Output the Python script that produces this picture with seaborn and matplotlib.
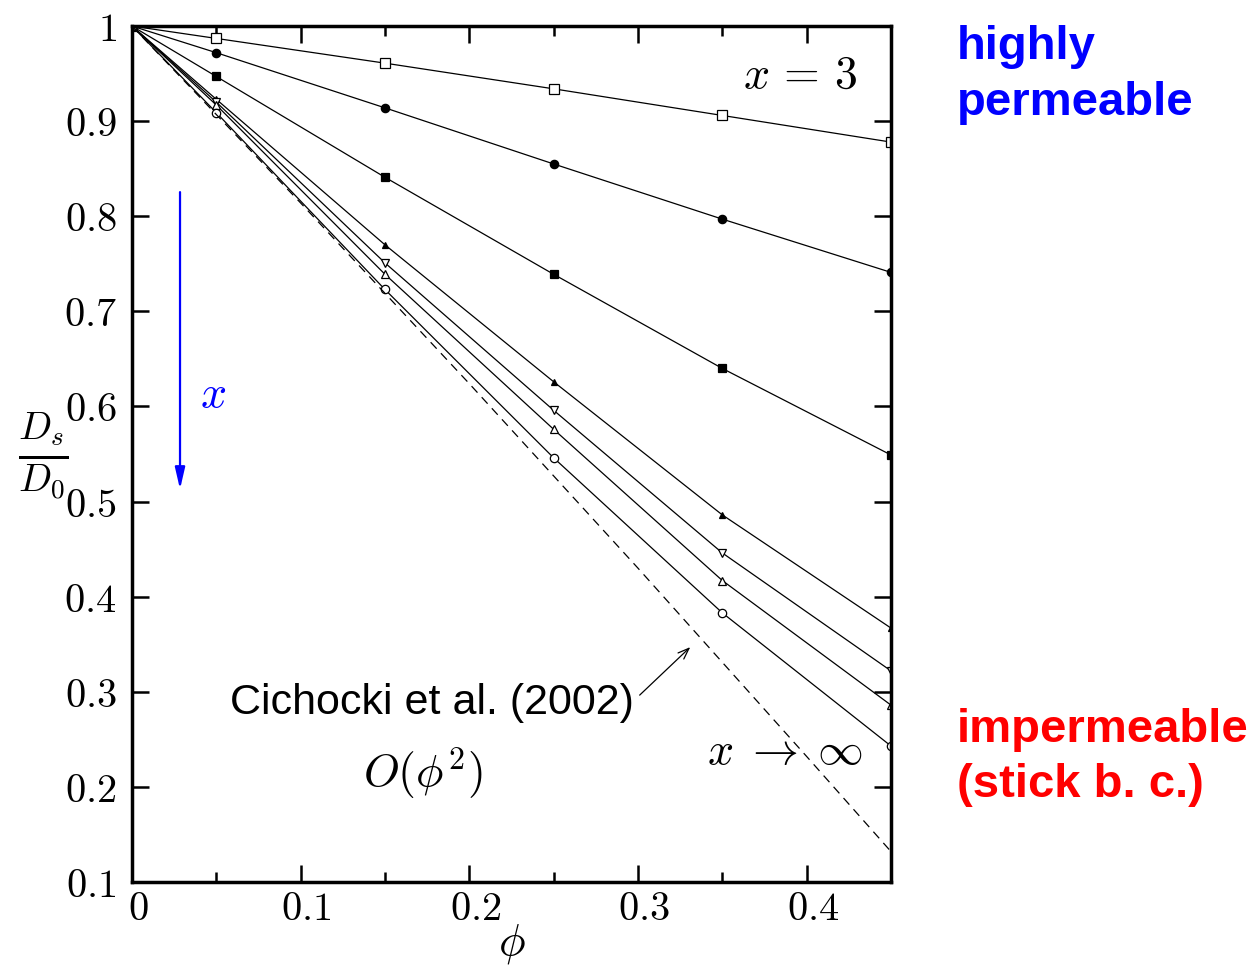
import numpy as np
import pandas as pd
import matplotlib
matplotlib.use("Agg")
import matplotlib.pyplot as plt
import matplotlib.transforms as mtransforms
import seaborn as sns

# ---------------- data ----------------
phi = [0.0, 0.05, 0.15, 0.25, 0.35, 0.45]
s_open_square = [1.0, 0.987, 0.961, 0.934, 0.906, 0.878]
s_filled_circle = [1.0, 0.972, 0.914, 0.855, 0.797, 0.741]
s_filled_square = [1.0, 0.947, 0.841, 0.739, 0.640, 0.549]
s_filled_tri_up = [1.0, 0.923, 0.770, 0.626, 0.486, 0.367]
s_open_tri_down = [1.0, 0.920, 0.751, 0.596, 0.446, 0.322]
s_open_tri_up = [1.0, 0.917, 0.739, 0.576, 0.417, 0.286]
s_open_circle = [1.0, 0.909, 0.723, 0.546, 0.383, 0.243]

phi_dash = [0.0, 0.05, 0.10, 0.15, 0.20, 0.25, 0.30, 0.35, 0.40, 0.45]
dash_vals = [1.0, 0.907, 0.814, 0.719, 0.624, 0.527, 0.430, 0.331, 0.232, 0.132]

xticks = [0.0, 0.1, 0.2, 0.3, 0.4]
xtick_labels = ["0", "0.1", "0.2", "0.3", "0.4"]
yticks = [0.1, 0.2, 0.3, 0.4, 0.5, 0.6, 0.7, 0.8, 0.9, 1.0]
ytick_labels = ["0.1", "0.2", "0.3", "0.4", "0.5", "0.6", "0.7", "0.8", "0.9", "1"]

# ---------------- style ----------------
sns.set_style("ticks")
plt.rcParams["font.family"] = ["Liberation Sans", "DejaVu Sans"]
plt.rcParams["mathtext.fontset"] = "cm"
plt.rcParams["text.color"] = "black"
plt.rcParams["xtick.color"] = "black"
plt.rcParams["ytick.color"] = "black"
plt.rcParams["axes.edgecolor"] = "black"

fig = plt.figure(figsize=(12.59, 9.65), dpi=100)
ax = fig.add_axes([0.1048, 0.086, 0.6029, 0.887])

series = [
    (s_open_square, "s", "white", 6.5),
    (s_filled_circle, "o", "black", 6),
    (s_filled_square, "s", "black", 6),
    (s_filled_tri_up, "^", "black", 5),
    (s_open_tri_down, "v", "white", 6),
    (s_open_tri_up, "^", "white", 6),
    (s_open_circle, "o", "white", 6),
]
for vals, mk, fc, ms in series:
    df = pd.DataFrame({"phi": phi, "D": vals})
    sns.lineplot(data=df, x="phi", y="D", ax=ax, color="black", lw=0.9,
                 marker=mk, markerfacecolor=fc, markeredgecolor="black",
                 markeredgewidth=0.9, markersize=ms)

dfd = pd.DataFrame({"phi": phi_dash, "D": dash_vals})
sns.lineplot(data=dfd, x="phi", y="D", ax=ax, color="black", lw=0.9,
             linestyle=(0, (7, 5)))

ax.set_xlim(0, 0.45)
ax.set_ylim(0.1, 1.0)
ax.set_xticks(xticks)
ax.set_xticklabels(["$" + t + "$" for t in xtick_labels])
ax.set_xticks([0.05, 0.15, 0.25, 0.35], minor=True)
ax.set_yticks(yticks)
ax.set_yticklabels(["$" + t + "$" for t in ytick_labels])
ax.tick_params(which="both", direction="in", top=True, right=True,
               width=1.8, labelsize=29, colors="black")
ax.tick_params(which="major", length=12)
ax.tick_params(which="minor", length=7)
ax.tick_params(axis="y", pad=11)
ax.tick_params(axis="x", pad=6)
offset = mtransforms.ScaledTranslation(6 / 100, 0, fig.dpi_scale_trans)
for lab in ax.get_xticklabels():
    lab.set_transform(lab.get_transform() + offset)
for sp in ax.spines.values():
    sp.set_linewidth(2.5)
    sp.set_color("black")
    sp.set_visible(True)
ax.set_xlabel("")
ax.set_ylabel("")

# axis labels
fig.text(0.4067, 0.022, r"$\phi$", fontsize=32, ha="center", va="center")
fig.text(0.034, 0.528, r"$\frac{D_s}{D_0}$", fontsize=40, ha="center", va="center")

# annotations
ax.text(0.396, 0.948, r"$x\,=\,3$", fontsize=33, ha="center", va="center")
ax.annotate("", xy=(0.0285, 0.513), xytext=(0.0285, 0.8254),
            arrowprops=dict(arrowstyle="-|>,head_length=1.3,head_width=0.3",
                            color="blue", lw=1.6, shrinkA=0, shrinkB=0))
ax.text(0.048, 0.612, r"$x$", fontsize=33, color="blue", ha="center", va="center")
ax.text(0.178, 0.288, "Cichocki et al. (2002)", fontsize=31, ha="center", va="center")
ax.annotate("", xy=(0.331, 0.347), xytext=(0.301, 0.2965),
            arrowprops=dict(arrowstyle="->,head_length=0.8,head_width=0.3",
                            color="black", lw=0.9, shrinkA=0, shrinkB=0))
ax.text(0.1725, 0.2145, r"$O(\phi^2)$", fontsize=33, ha="center", va="center")
ax.text(0.387, 0.2366, r"$x\;\rightarrow\;\infty$", fontsize=33, ha="center", va="center")

fig.text(0.760, 0.951, "highly", fontsize=34, fontweight="bold", color="blue",
         ha="left", va="center")
fig.text(0.760, 0.893, "permeable", fontsize=34, fontweight="bold", color="blue",
         ha="left", va="center")
fig.text(0.760, 0.2435, "impermeable", fontsize=34, fontweight="bold", color="red",
         ha="left", va="center")
fig.text(0.760, 0.1865, "(stick b. c.)", fontsize=34, fontweight="bold", color="red",
         ha="left", va="center")

fig.savefig("out.png", dpi=100)
